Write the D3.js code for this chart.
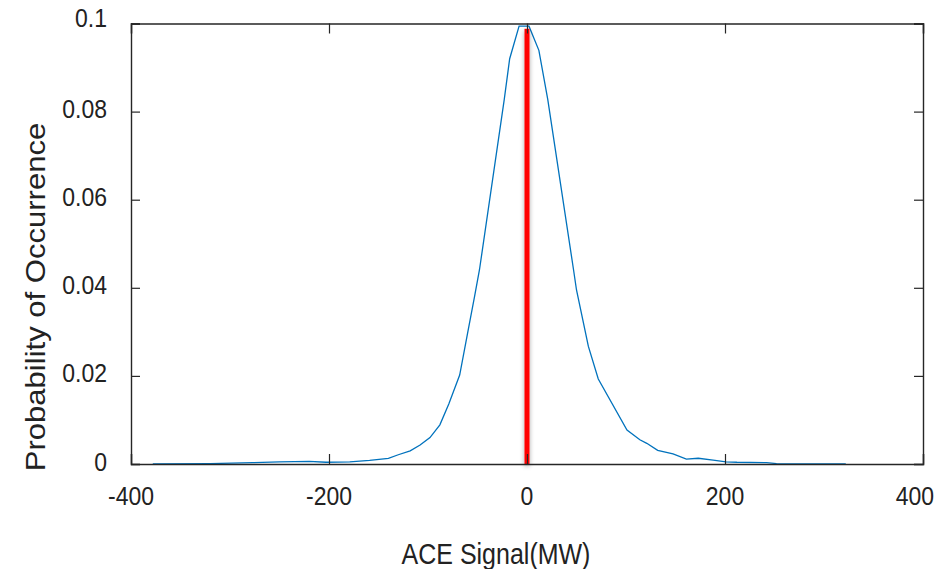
<!DOCTYPE html>
<html><head><meta charset="utf-8">
<script src="https://cdn.jsdelivr.net/npm/d3@7"></script>
<style>body{margin:0;background:#fff;} text{font-family:"Liberation Sans",Arial,sans-serif;fill:#222;}</style>
</head><body>
<svg id="c" width="936" height="569"></svg>
<script>
const aceX = [-378,-320,-277,-250,-220,-203,-179,-159,-140,-130,-118,-108,-98,-88,-79,-68,-60,-53,-48,-23,-17.5,-8,2,12,21,47,50,62,72,101,114,121,132,147.5,161,173,188,201,212,242,252,322];
const prob = [0.0000,0.0001,0.0003,0.0005,0.0006,0.0004,0.0005,0.0008,0.0013,0.0021,0.0030,0.0043,0.0060,0.0089,0.0136,0.0202,0.0297,0.0380,0.0441,0.0827,0.0920,0.0994,0.0994,0.0939,0.0827,0.0441,0.0395,0.0267,0.0193,0.0077,0.0055,0.0047,0.0031,0.0023,0.0011,0.0013,0.0009,0.0005,0.0004,0.0003,0.0001,0.00005];
const meanLine = {x: 0, y: 0.0988};
const xTicks = [-400,-200,0,200,400];
const xTickLabels = ["-400","-200","0","200","400"];
const yTicks = [0,0.02,0.04,0.06,0.08,0.1];
const yTickLabels = ["0","0.02","0.04","0.06","0.08","0.1"];
const xLabel = "ACE Signal(MW)";
const yLabel = "Probability of Occurrence";

const svg = d3.select("#c");
const L=131, R=923, T=23.5, B=464;
const SY = 1.15; // vertical stretch of the reference typography
const x = d3.scaleLinear().domain([-400,400]).range([L,R]);
const y = d3.scaleLinear().domain([0,0.1]).range([B,T]);

const defs = svg.append("defs");
const f = defs.append("filter").attr("id","sh").attr("filterUnits","userSpaceOnUse")
  .attr("x",x(0)-20).attr("y",y(0.1)-10).attr("width",40).attr("height",B-y(0.1)+30);
f.append("feGaussianBlur").attr("in","SourceAlpha").attr("stdDeviation",2.5).attr("result","b");
f.append("feOffset").attr("in","b").attr("dx",0).attr("dy",2).attr("result","o");
f.append("feComponentTransfer").attr("in","o").attr("result","o2").append("feFuncA").attr("type","linear").attr("slope",0.35);
const m = f.append("feMerge"); m.append("feMergeNode").attr("in","o2"); m.append("feMergeNode").attr("in","SourceGraphic");

// curve
svg.append("path").datum(aceX.map((v,i)=>[v,prob[i]]))
  .attr("d", d3.line().x(d=>x(d[0])).y(d=>y(d[1])))
  .attr("fill","none").attr("stroke","#0072BD").attr("stroke-width",1.3);

// red line
svg.append("rect").attr("x",x(meanLine.x)-2.5).attr("width",5)
  .attr("y",y(meanLine.y)).attr("height",y(0)-y(meanLine.y))
  .attr("fill","#ff0000").attr("filter","url(#sh)");

// axes
const ac = "#262626";
const gB = svg.append("g").attr("transform",`translate(0,${B})`)
  .call(d3.axisBottom(x).tickValues(xTicks).tickSize(-10).tickFormat(""));
const gT = svg.append("g").attr("transform",`translate(0,${T})`)
  .call(d3.axisTop(x).tickValues(xTicks).tickSize(-10).tickFormat(""));
const gL = svg.append("g").attr("transform",`translate(${L},0)`)
  .call(d3.axisLeft(y).tickValues(yTicks).tickSize(-9).tickFormat(""));
const gR = svg.append("g").attr("transform",`translate(${R},0)`)
  .call(d3.axisRight(y).tickValues(yTicks).tickSize(-9).tickFormat(""));
[gB,gT,gL,gR].forEach(g=>{
  g.select(".domain").attr("stroke",ac).attr("stroke-width",1.4);
  g.selectAll(".tick line").attr("stroke",ac).attr("stroke-width",1.2);
});

// tick labels
const tfs = 23;
svg.append("g").selectAll("text").data(xTicks).join("text")
  .attr("transform",(d)=>`translate(${d===400 ? 934 : x(d)},505) scale(1,${SY})`)
  .attr("text-anchor",d=> d===400 ? "end" : "middle").attr("font-size",tfs)
  .text((d,i)=>xTickLabels[i]);
svg.append("g").selectAll("text").data(yTicks).join("text")
  .attr("transform",(d)=>`translate(107,${y(d)+ (d===0.1?3.5:6.5)}) scale(1,${SY})`)
  .attr("text-anchor","end").attr("font-size",tfs)
  .text((d,i)=>yTickLabels[i]);

svg.append("text").attr("transform",`translate(496,564) scale(1,${SY})`).attr("text-anchor","middle").attr("font-size",25).text(xLabel);
svg.append("text").attr("transform",`translate(45,297) rotate(-90) scale(${SY},1)`).attr("text-anchor","middle").attr("font-size",27).text(yLabel);
</script>
</body></html>
